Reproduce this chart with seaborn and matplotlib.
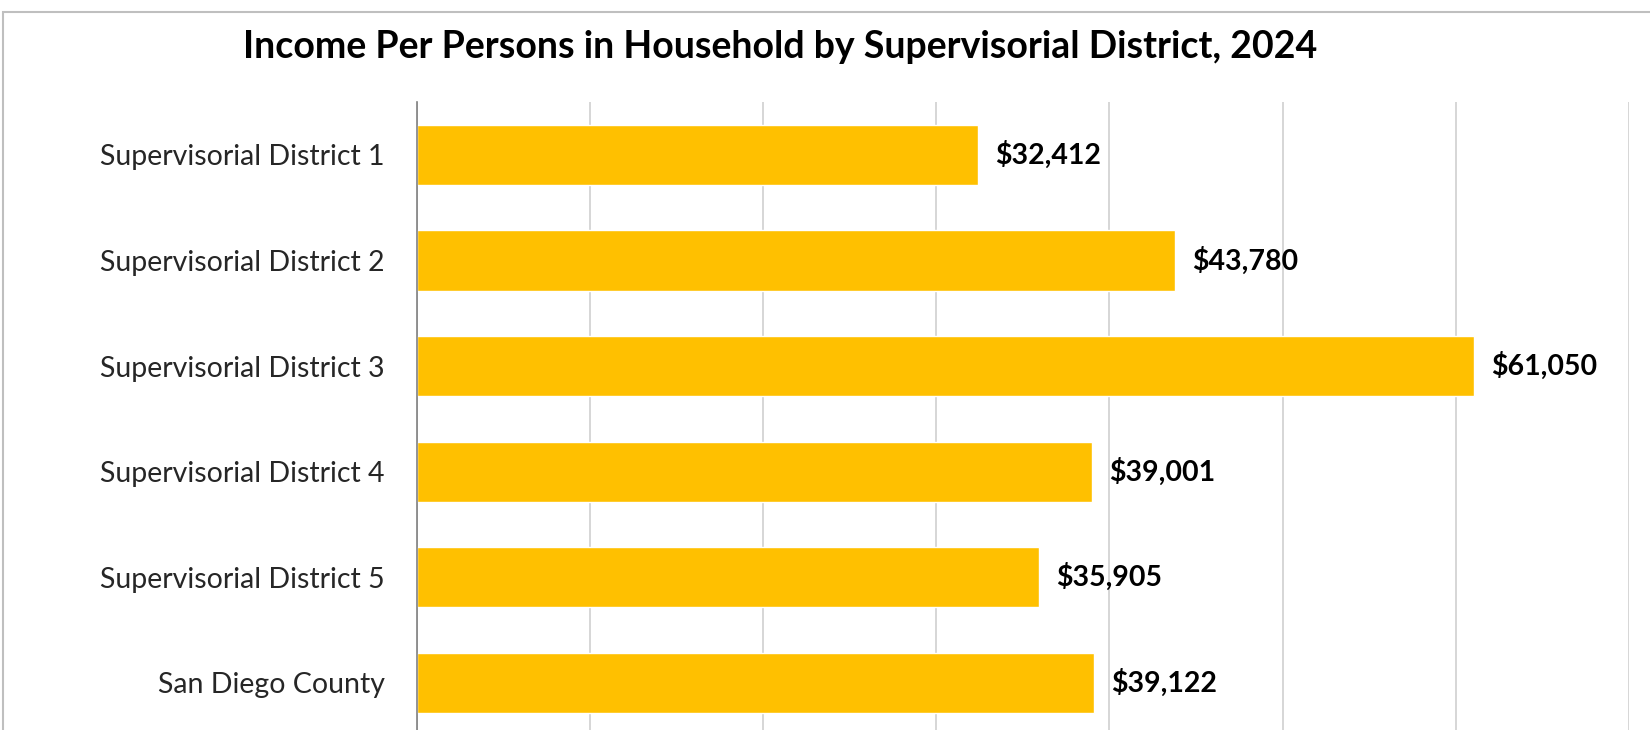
import pandas as pd
import seaborn as sns
import matplotlib.pyplot as plt
from matplotlib.patches import Rectangle

districts = ['Supervisorial District 1', 'Supervisorial District 2', 'Supervisorial District 3',
             'Supervisorial District 4', 'Supervisorial District 5', 'San Diego County']
income = [32412, 43780, 61050, 39001, 35905, 39122]

df = pd.DataFrame({'district': districts, 'income': income})

sns.set_theme(style='white')
plt.rcParams['font.family'] = ['Lato', 'DejaVu Sans']

fig = plt.figure(figsize=(16.5, 7.3), dpi=100)
ax = fig.add_axes([0.2525, 0.0, 0.7348, 0.860])

sns.barplot(data=df, x='income', y='district', color='#FFC000', width=0.57,
            saturation=1, orient='h', ax=ax)

# grille verticale tous les 10 000
ax.set_xlim(0, 70000)
ax.set_xticks(range(0, 70001, 10000))
ax.set_ylim(5.447, -0.5)
ax.grid(axis='x', color='#D0D0D0', linewidth=1.2)
ax.set_axisbelow(True)
for s in ['top', 'right', 'bottom']:
    ax.spines[s].set_visible(False)
ax.spines['left'].set_color('#808080')
ax.spines['left'].set_linewidth(1.2)
ax.tick_params(axis='x', length=0, labelbottom=False)
ax.tick_params(axis='y', length=0, pad=23, labelsize=20.5)
ax.set_xlabel('')
ax.set_ylabel('')

# etiquettes de valeurs
for i, v in enumerate(income):
    ax.text(v + 1000, i, f'${v:,}', va='center', ha='left',
            fontsize=20.5, fontweight='bold', color='black')

fig.text(0.473, 0.935, 'Income Per Persons in Household by Supervisorial District, 2024',
         ha='center', va='center', fontsize=27, fontweight='bold', color='black')

# cadre du graphique
fig.patches.append(Rectangle((3 / 1650, -0.1), 1.2, 1 - 12 / 730 + 0.1,
                             transform=fig.transFigure, fill=False,
                             edgecolor='#BFBFBF', linewidth=1.5))

fig.savefig('out.png', dpi=100)
